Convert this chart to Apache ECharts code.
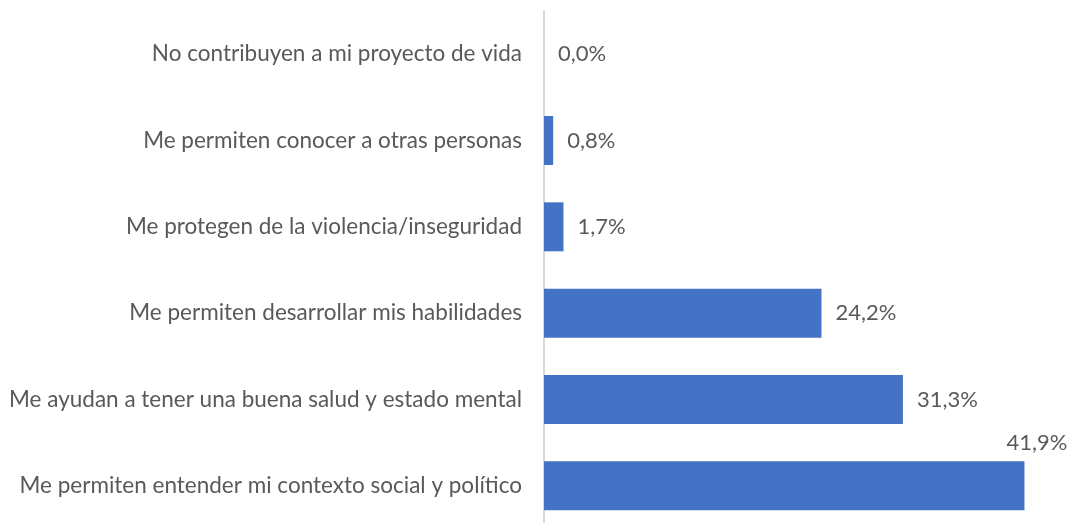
<!DOCTYPE html>
<html>
<head>
<meta charset="utf-8">
<script src="https://cdn.jsdelivr.net/npm/echarts@6/dist/echarts.min.js"></script>
<style>
  html, body { margin: 0; padding: 0; background: #fff; }
  #chart { width: 1070px; height: 523px; }
</style>
</head>
<body>
<div id="chart"></div>
<script>
const categories = [
  "No contribuyen a mi proyecto de vida",
  "Me permiten conocer a otras personas",
  "Me protegen de la violencia/inseguridad",
  "Me permiten desarrollar mis habilidades",
  "Me ayudan a tener una buena salud y estado mental",
  "Me permiten entender mi contexto social y político",
];
const values = [0.0, 0.8, 1.7, 24.2, 31.3, 41.9];

const textColor = "#595959";
const fontFamily = "Lato";

const chart = echarts.init(document.getElementById("chart"));

const seriesData = values.map((v, i) => {
  const item = { value: v };
  // the last bar's label sits above its end, like the original
  if (i === values.length - 1) {
    item.label = {
      position: ["100%", -18],
      align: "right",
      verticalAlign: "middle",
      offset: [43, 0],
    };
  }
  return item;
});

chart.setOption({
  animation: false,
  grid: {
    left: 544,
    top: 11,
    width: 516,
    height: 518,
    containLabel: false,
    outerBoundsMode: "none",
  },
  xAxis: {
    type: "value",
    min: 0,
    max: 45,
    show: false,
  },
  yAxis: {
    type: "category",
    data: categories,
    inverse: true,
    axisLine: {
      show: true,
      lineStyle: { color: "#d9d9d9", width: 2 },
    },
    axisTick: { show: false },
    axisLabel: {
      color: textColor,
      fontFamily,
      fontSize: 22.5,
      margin: 22,
    },
  },
  series: [
    {
      type: "bar",
      data: seriesData,
      barWidth: 49,
      itemStyle: { color: "#4472C4" },
      label: {
        show: true,
        position: "right",
        distance: 14,
        color: textColor,
        fontFamily,
        fontSize: 22,
        formatter: (p) => p.value.toFixed(1).replace(".", ",") + "%",
      },
    },
  ],
});
</script>
</body>
</html>
